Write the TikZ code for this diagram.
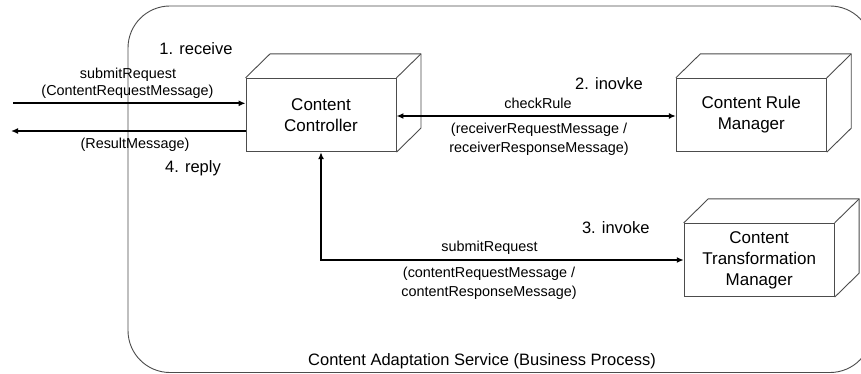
\documentclass[tikz,border=0pt]{standalone}
\usepackage{fontspec}
\setmainfont{Liberation Sans}
\usetikzlibrary{arrows.meta}

\tikzset{
  boxline/.style={draw=black!70, line width=0.9pt},
  cubebox/.style={boxline, fill=white, minimum width=150pt, minimum height=73.4pt,
    inner sep=0pt, align=center, font=\fontsize{17}{21}\selectfont},
  steplabel/.style={font=\fontsize{16.5}{20}\selectfont, inner sep=0pt},
  msglabel/.style={font=\fontsize{14.4}{19}\selectfont, inner sep=0pt, align=center},
  msgarrow/.style={line width=1.6pt, -{Latex[length=7pt,width=6pt]}},
  twoway/.style={line width=1.6pt, {Latex[length=7pt,width=6pt]}-{Latex[length=7pt,width=6pt]}},
}

% top and side faces of a 3D box drawn behind-right of a node's front face
\newcommand{\cubefaces}[1]{%
  \draw[boxline, line join=round]
    (#1.north west) -- ++(24.5,-24) -- ([shift={(24.5,-24)}]#1.north east)
    -- ([shift={(24.5,-24)}]#1.south east) -- (#1.south east);
  \draw[boxline] (#1.north east) -- ++(24.5,-24);
}

\begin{document}
\begin{tikzpicture}[x=1pt, y=-1pt]
  \useasboundingbox (0,0) rectangle (861,374);
  \fill[white] (0,0) rectangle (861,374);

  % business process container
  \begin{scope}
    \clip (0,0) rectangle (861,374);
    \draw[draw=black!70, line width=0.9pt, rounded corners=42pt]
      (128,6) rectangle (872,372.5);
  \end{scope}
  \node[steplabel] (procname) at (482,361.7) {Content Adaptation Service (Business Process)};

  % components
  \node[cubebox] (ctrl) at (321,115) {Content\\Controller};
  \cubefaces{ctrl}
  \node[cubebox] (rule) at (751.3,115) {Content Rule\\Manager};
  \cubefaces{rule}
  \node[cubebox] (trans) at (759.2,260) {Content\\Transformation\\Manager};
  \cubefaces{trans}

  % client request / reply
  \coordinate (inL) at (13,103.3);
  \coordinate (outL) at (11,131);
  \draw[msgarrow] (inL) -- (ctrl.west |- inL);
  \draw[msgarrow] (ctrl.west |- outL) -- (outL);
  \node[steplabel] (s1) at (196,48.3) {1. receive};
  \node[msglabel] (m1a) at (128,75) {submitRequest};
  \node[msglabel] (m1b) at (127.5,91.7) {(ContentRequestMessage)};
  \node[msglabel] (m4) at (135,145) {(ResultMessage)};
  \node[steplabel] (s4) at (193,168.3) {4. reply};

  % rule check
  \draw[twoway] (ctrl.east |- 0,116) -- (rule.west |- 0,116);
  \node[steplabel] (s2) at (609,83.3) {2. inovke};
  \node[msglabel] (m2a) at (538,103.3) {checkRule};
  \node[msglabel] (m2b) at (539,138.8) {(receiverRequestMessage /\\receiverResponseMessage)};

  % transformation
  \draw[twoway] (ctrl.south) -- (ctrl.south |- trans.west) -- (trans.west);
  \node[steplabel] (s3) at (615.8,228) {3. invoke};
  \node[msglabel] (m3a) at (489.5,247.5) {submitRequest};
  \node[msglabel] (m3b) at (489,283.3) {(contentRequestMessage /\\contentResponseMessage)};
\end{tikzpicture}
\end{document}
